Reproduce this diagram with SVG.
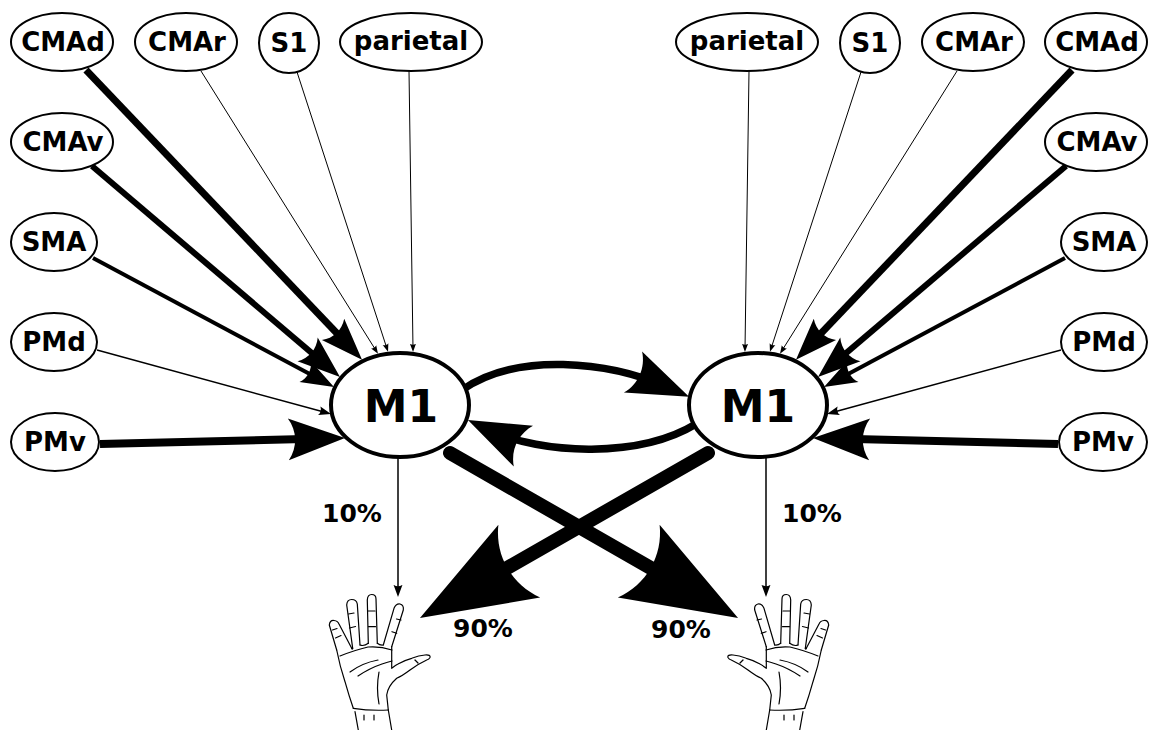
<svg xmlns="http://www.w3.org/2000/svg" width="1151" height="730" viewBox="0 0 1151 730">
  <defs>
    <style>
      .node ellipse { fill: #fff; stroke: #000; stroke-width: 2; }
      .m1 ellipse { stroke-width: 4; }
      text { font-family: "DejaVu Sans", "Liberation Sans", sans-serif; font-weight: bold; fill: #000; text-anchor: middle; }
      .lbl { font-size: 26px; }
      .big { font-size: 44px; }
      .pct { font-size: 25px; }
      .edge { fill: none; stroke: #000; }
      .w1 { stroke-width: 1; }
      .w15 { stroke-width: 1.5; }
      .w4 { stroke-width: 4; }
      .w6 { stroke-width: 6; }
      .w7 { stroke-width: 7; }
      .w75 { stroke-width: 7.5; }
      .w8 { stroke-width: 8; }
      .w14 { stroke-width: 14; stroke-linecap: round; }
      .hand path { fill: none; stroke: #000; stroke-width: 1.2; stroke-linecap: round; stroke-linejoin: round; }
    </style>
    <!-- concave-backed arrowheads, sized relative to the stroke width -->
    <marker id="ah-s" viewBox="-11 -4.5 12 9" refX="-4" refY="0" markerWidth="6.6" markerHeight="4.95" orient="auto" markerUnits="strokeWidth">
      <path d="M -10.9,-4 L 0,0 L -10.9,4 C -9.15,1.6 -9.15,-1.6 -10.9,-4 Z"/>
    </marker>
    <marker id="ah-m" viewBox="-11 -4.5 12 9" refX="-4" refY="0" markerWidth="7.8" markerHeight="5.85" orient="auto" markerUnits="strokeWidth">
      <path d="M -10.9,-4 L 0,0 L -10.9,4 C -9.15,1.6 -9.15,-1.6 -10.9,-4 Z"/>
    </marker>
    <marker id="ah-l" viewBox="-11 -4.5 12 9" refX="-4" refY="0" markerWidth="9" markerHeight="6.75" orient="auto" markerUnits="strokeWidth">
      <path d="M -10.9,-4 L 0,0 L -10.9,4 C -9.15,1.6 -9.15,-1.6 -10.9,-4 Z"/>
    </marker>
    <!-- sketched open hand, palm view -->
    <g id="handShape" class="hand">
      <path d="M 336.7,650 L 329.3,625 Q 330,620 334,620.5 Q 338,621 339,624 L 351.7,648.3"/>
      <path d="M 352.7,648.3 L 346.7,605 Q 347,599.5 351.7,599.5 Q 356.5,599.5 357.3,604 L 360,645"/>
      <path d="M 368.3,643.3 L 367.3,600 Q 367.5,594.5 371.7,594.5 Q 376,594.5 376,599 L 377.3,643.3"/>
      <path d="M 383.3,645 L 394,608.3 Q 396,603.5 400,604 Q 404,605 403.3,610 L 391.7,646.7"/>
      <path d="M 391.7,646.7 L 391.7,668.3 Q 396,665 398,664 Q 405,660 411.7,658.3 Q 419,655.5 425,655 Q 431,654.5 430,657.5 Q 429,659.5 426.7,660 Q 418,664 410,670 Q 402,676 396.7,678.3 Q 388,686 386.7,695 L 388.3,710"/>
      <path d="M 336.7,650 Q 340,667 345,681.7 Q 349,696 353.3,708.3"/>
      <path d="M 351.7,648.3 Q 352.2,650 352.7,648.3"/>
      <path d="M 360,645 Q 364,646.5 368.3,643.3"/>
      <path d="M 377.3,643.3 Q 380,645.5 383.3,645"/>
      <path d="M 340,656 Q 355,650 368,647 Q 380,646 392,650"/>
      <path d="M 350,672 Q 362,663 378,660"/>
      <path d="M 358,676 Q 370,668 382,664 Q 388,662 392,661"/>
      <path d="M 379,672 Q 376,688 379,704"/>
      <path d="M 335.5,638 L 341,635.5"/>
      <path d="M 332.5,630 L 337,628.5"/>
      <path d="M 349.5,628 L 355.5,626.5"/>
      <path d="M 348.5,614 L 354,613"/>
      <path d="M 368.5,626.7 L 375.5,626.7"/>
      <path d="M 368,611 L 375,611"/>
      <path d="M 392,631.7 L 396.7,633.3"/>
      <path d="M 396.5,619 L 401,620"/>
      <path d="M 415,660 L 418,663"/>
      <path d="M 353.3,708.3 Q 370,711 388.3,710"/>
      <path d="M 355,711.7 L 358.3,730"/>
      <path d="M 388.3,710 L 391.7,730"/>
      <path d="M 364,715 L 364,720"/>
      <path d="M 374,715 L 374,720"/>
    </g>
  </defs>

  <rect x="0" y="0" width="1151" height="730" fill="#fff"/>

  <g id="connectors">
    <!-- inputs to left M1 -->
    <path class="edge w7" d="M 86,70 L 351.4,348.5" marker-end="url(#ah-s)"/>
    <path class="edge w6" d="M 92,166 L 328.1,366.9" marker-end="url(#ah-m)"/>
    <path class="edge w4" d="M 93,258 L 323.4,381.3" marker-end="url(#ah-l)"/>
    <path class="edge w15" d="M 97,350 L 326.7,412.8" marker-end="url(#ah-l)"/>
    <path class="edge w8" d="M 100,444 L 324.2,438.5" marker-end="url(#ah-m)"/>
    <path class="edge w1" d="M 201,71 L 376.4,351.2" marker-end="url(#ah-l)"/>
    <path class="edge w1" d="M 297,72 L 387.1,349" marker-end="url(#ah-l)"/>
    <path class="edge w1" d="M 409,71 L 413,349" marker-end="url(#ah-l)"/>
    <!-- inputs to right M1 -->
    <path class="edge w7" d="M 1072,70 L 806.6,348.5" marker-end="url(#ah-s)"/>
    <path class="edge w6" d="M 1066,166 L 829.9,366.9" marker-end="url(#ah-m)"/>
    <path class="edge w4" d="M 1065,258 L 834.6,381.3" marker-end="url(#ah-l)"/>
    <path class="edge w15" d="M 1061,350 L 831.3,412.8" marker-end="url(#ah-l)"/>
    <path class="edge w8" d="M 1058,444 L 833.8,438.5" marker-end="url(#ah-m)"/>
    <path class="edge w1" d="M 957,71 L 781.6,351.2" marker-end="url(#ah-l)"/>
    <path class="edge w1" d="M 861,72 L 770.9,349" marker-end="url(#ah-l)"/>
    <path class="edge w1" d="M 749,71 L 745,349" marker-end="url(#ah-l)"/>
    <!-- M1 to M1 -->
    <path class="edge w75" d="M 462,390 C 517,352 608,361 668.5,387.7" marker-end="url(#ah-l)"/>
    <path class="edge w75" d="M 696,424 C 640,458 542.5,455.2 488.3,429.6" marker-end="url(#ah-l)"/>
    <!-- crossed projections -->
    <path class="edge w14" d="M 450,453 L 701.6,597.1" marker-end="url(#ah-l)"/>
    <path class="edge w14" d="M 708,453 L 456.4,597.1" marker-end="url(#ah-l)"/>
    <!-- uncrossed projections -->
    <path class="edge w15" d="M 398,457 L 398,592.5" marker-end="url(#ah-l)"/>
    <path class="edge w15" d="M 766,457 L 766,592.5" marker-end="url(#ah-l)"/>
  </g>

  <g id="pct-labels">
    <text class="pct" x="352" y="522">10%</text>
    <text class="pct" x="812" y="522">10%</text>
    <text class="pct" x="483" y="637">90%</text>
    <text class="pct" x="681" y="638">90%</text>
  </g>

  <g id="hand-left"><use href="#handShape"/></g>
  <g id="hand-right"><use href="#handShape" transform="translate(1158,0) scale(-1,1)"/></g>

  <!-- left hemisphere -->
  <g id="l-CMAd" class="node"><ellipse cx="62" cy="42" rx="51" ry="29"/><text class="lbl" x="63" y="51">CMAd</text></g>
  <g id="l-CMAr" class="node"><ellipse cx="186" cy="42" rx="51" ry="29"/><text class="lbl" x="187" y="51">CMAr</text></g>
  <g id="l-S1" class="node"><ellipse cx="289" cy="43" rx="30" ry="30"/><text class="lbl" x="289" y="52">S1</text></g>
  <g id="l-parietal" class="node"><ellipse cx="411" cy="42" rx="71" ry="29"/><text class="lbl" x="411" y="50">parietal</text></g>
  <g id="l-CMAv" class="node"><ellipse cx="62" cy="142" rx="51" ry="29"/><text class="lbl" x="63" y="151">CMAv</text></g>
  <g id="l-SMA" class="node"><ellipse cx="54" cy="242" rx="43" ry="29"/><text class="lbl" x="54" y="251">SMA</text></g>
  <g id="l-PMd" class="node"><ellipse cx="54" cy="342" rx="43" ry="29"/><text class="lbl" x="54" y="351">PMd</text></g>
  <g id="l-PMv" class="node"><ellipse cx="55" cy="442" rx="44" ry="29"/><text class="lbl" x="55" y="451">PMv</text></g>
  <g id="l-M1" class="node m1"><ellipse cx="400" cy="405" rx="69" ry="52"/><text class="big" x="401" y="422">M1</text></g>

  <!-- right hemisphere -->
  <g id="r-CMAd" class="node"><ellipse cx="1096" cy="42" rx="51" ry="29"/><text class="lbl" x="1097" y="51">CMAd</text></g>
  <g id="r-CMAr" class="node"><ellipse cx="973" cy="42" rx="51" ry="29"/><text class="lbl" x="974" y="51">CMAr</text></g>
  <g id="r-S1" class="node"><ellipse cx="870" cy="43" rx="30" ry="30"/><text class="lbl" x="870" y="52">S1</text></g>
  <g id="r-parietal" class="node"><ellipse cx="747" cy="42" rx="71" ry="29"/><text class="lbl" x="747" y="50">parietal</text></g>
  <g id="r-CMAv" class="node"><ellipse cx="1096" cy="142" rx="51" ry="29"/><text class="lbl" x="1097" y="151">CMAv</text></g>
  <g id="r-SMA" class="node"><ellipse cx="1104" cy="242" rx="43" ry="29"/><text class="lbl" x="1104" y="251">SMA</text></g>
  <g id="r-PMd" class="node"><ellipse cx="1104" cy="342" rx="43" ry="29"/><text class="lbl" x="1104" y="351">PMd</text></g>
  <g id="r-PMv" class="node"><ellipse cx="1103" cy="442" rx="44" ry="29"/><text class="lbl" x="1103" y="451">PMv</text></g>
  <g id="r-M1" class="node m1"><ellipse cx="758" cy="405" rx="69" ry="52"/><text class="big" x="758" y="422">M1</text></g>
</svg>
